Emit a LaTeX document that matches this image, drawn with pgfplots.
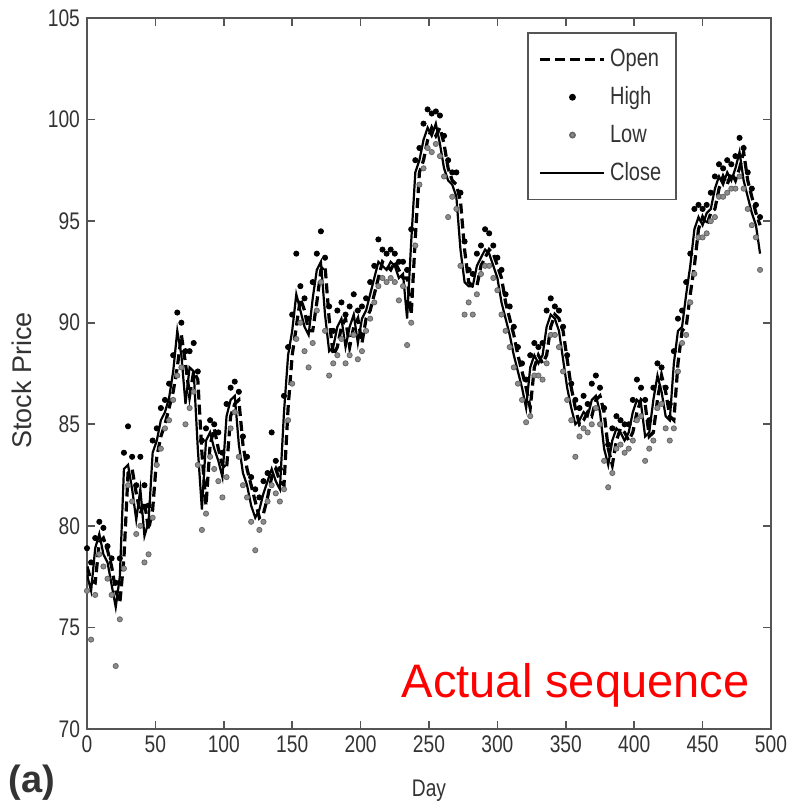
\documentclass[border=0pt]{standalone}
\usepackage{fontspec}
\setmainfont{Liberation Sans}[FakeStretch=0.8]
\newfontfamily\normalw{Liberation Sans}
\usepackage{pgfplots}
\pgfplotsset{compat=1.18}
\usepackage{pgfplotstable}
\definecolor{txt}{HTML}{333333}
\definecolor{axc}{HTML}{555555}
\pgfplotsset{
  lineleg/.style={legend image code/.code={\draw[##1] (0pt,0pt) -- (32pt,0pt);}},
  markleg/.style={legend image code/.code={\draw[##1] plot coordinates {(16pt,0pt)};}},
}

\pgfplotstableread{
day open high low close
0 78.0 78.9 76.8 77.6
3 77.3 78.2 74.4 76.8
6 77.2 79.4 76.6 78.9
9 79.2 80.2 78.6 79.6
12 79.4 79.9 78.0 78.6
15 78.8 79.0 77.4 78.2
18 78.0 78.4 76.6 77.1
21 76.8 77.2 73.1 76.0
24 76.2 78.4 75.4 77.5
27 78.4 83.6 77.9 82.8
30 82.6 84.9 82.0 83.0
33 82.8 83.4 81.2 81.8
36 81.6 82.0 79.6 80.3
39 80.6 83.4 80.0 81.8
42 81.2 82.0 78.2 79.5
45 79.8 81.0 78.6 80.2
48 80.8 84.2 80.4 83.6
51 83.4 84.8 83.0 84.2
54 84.4 85.8 83.8 85.2
57 85.0 86.2 84.8 85.6
60 85.8 87.0 85.2 86.3
63 86.6 88.4 86.2 87.6
66 87.8 90.5 87.4 89.6
69 89.4 90.0 87.8 88.4
72 88.0 88.6 85.0 86.0
75 86.4 88.6 85.8 87.8
78 87.6 89.0 86.6 87.6
81 87.2 87.6 83.0 83.8
84 83.6 84.2 79.8 80.8
87 81.0 84.8 80.6 84.2
90 84.0 85.2 83.4 84.6
93 84.8 85.0 82.8 83.8
96 83.8 84.6 82.2 83.2
99 83.0 83.6 81.4 82.4
102 82.8 86.0 82.4 85.4
105 85.4 86.8 84.8 86.2
108 86.0 87.1 85.6 86.4
111 86.2 86.6 83.4 84.0
114 84.0 84.4 82.0 82.6
117 82.8 83.4 81.4 82.0
120 82.0 82.4 80.2 81.0
123 81.2 81.8 78.8 80.4
126 80.4 81.4 79.8 80.8
129 80.6 82.2 80.2 81.6
132 81.4 82.6 81.2 82.2
135 82.4 84.6 82.0 82.8
138 82.8 83.2 81.6 82.2
141 82.2 82.8 81.2 81.8
144 82.0 86.4 81.8 85.6
147 85.8 88.8 85.2 88.4
150 88.4 90.4 87.0 89.6
153 89.8 93.4 89.2 91.4
156 91.2 91.8 90.0 90.6
159 90.6 91.2 88.6 89.8
162 89.6 90.2 87.8 89.4
165 89.6 92.0 89.0 91.2
168 91.0 93.4 90.6 92.6
171 92.6 94.5 92.0 93.0
174 92.8 93.2 89.6 90.4
177 90.2 90.8 87.4 88.6
180 88.4 89.6 88.0 88.8
183 88.8 90.6 88.4 89.8
186 89.8 91.0 89.2 90.2
189 90.2 90.4 88.0 88.8
192 88.8 90.8 88.4 89.8
195 89.8 91.4 89.4 90.4
198 90.2 90.6 88.2 89.0
201 89.0 90.8 88.6 90.2
204 90.2 91.2 89.6 90.6
207 90.6 92.0 90.2 91.4
210 91.4 92.8 91.0 92.2
213 92.2 94.1 91.8 93.0
216 93.0 93.6 92.2 92.8
219 92.8 93.4 92.0 92.6
222 92.6 93.6 92.2 93.0
225 93.0 93.4 92.0 92.8
228 92.6 93.0 91.1 92.2
231 92.2 93.0 91.8 92.4
234 92.2 92.6 88.9 90.2
237 90.4 94.6 90.0 94.0
240 94.2 98.0 93.8 97.4
243 97.4 98.6 96.8 98.0
246 98.0 99.8 97.6 99.0
249 99.0 100.5 98.6 99.6
252 99.6 100.3 98.4 99.2
255 99.2 100.4 98.8 99.8
258 99.6 100.2 98.2 98.8
261 98.8 99.2 97.2 97.6
264 97.6 98.0 95.2 97.0
267 97.0 97.4 96.2 96.8
270 96.8 97.4 95.6 96.2
273 96.0 96.4 92.8 93.6
276 93.6 94.0 90.4 92.0
279 92.0 92.6 91.0 91.8
282 91.8 92.4 90.4 91.8
285 91.8 93.4 91.4 92.8
288 92.8 93.8 92.4 93.2
291 93.2 94.6 92.8 93.6
294 93.6 94.4 92.8 93.4
297 93.4 93.8 92.2 92.8
300 92.8 93.2 91.6 92.2
303 92.2 92.6 90.4 91.0
306 91.0 91.4 89.6 90.2
309 90.2 90.8 88.8 89.4
312 89.4 89.8 87.8 88.4
315 88.4 88.8 87.0 87.6
318 87.6 88.0 86.2 86.8
321 86.8 87.2 85.1 85.8
324 85.8 88.4 85.4 87.8
327 87.8 89.0 87.4 88.4
330 88.4 88.8 87.4 88.0
333 88.0 89.0 87.2 88.4
336 88.4 90.6 88.0 89.8
339 89.8 91.2 89.4 90.4
342 90.4 90.8 89.4 90.2
345 90.2 90.6 88.8 89.6
348 89.6 89.8 87.6 88.2
351 88.2 88.4 86.2 86.8
354 86.8 87.0 85.2 85.8
357 85.8 86.2 83.4 85.0
360 85.0 85.8 84.4 85.2
363 85.2 86.4 84.8 85.6
366 85.6 86.0 84.6 85.4
369 85.4 87.0 85.0 86.2
372 86.2 87.4 85.8 86.4
375 86.4 86.8 85.0 85.6
378 85.6 85.8 83.2 83.8
381 83.8 84.0 81.9 83.0
384 83.0 84.8 82.6 84.2
387 84.2 85.4 83.8 84.8
390 84.8 85.2 84.0 84.6
393 84.6 85.0 83.6 84.2
396 84.2 85.0 83.8 84.6
399 84.6 86.2 84.2 85.6
402 85.6 87.2 85.2 86.2
405 86.2 86.8 85.4 86.0
408 86.0 86.2 83.2 84.4
411 84.4 85.2 83.8 84.6
414 84.6 86.8 84.2 86.2
417 86.2 88.0 85.8 87.4
420 87.4 87.8 86.0 86.6
423 86.6 86.8 84.8 85.4
426 85.4 86.0 84.2 85.2
429 85.2 88.6 84.8 88.0
432 88.0 90.2 87.6 89.6
435 89.6 90.6 89.0 89.8
438 89.8 92.0 89.4 91.4
441 91.4 93.4 91.0 92.8
444 92.8 95.6 92.4 94.6
447 94.6 95.8 94.2 95.2
450 95.2 95.6 94.2 94.8
453 94.8 95.8 94.4 95.4
456 95.4 96.4 95.0 95.6
459 95.6 97.2 95.2 96.6
462 96.6 97.8 96.2 97.2
465 97.2 97.6 96.2 96.8
468 96.8 98.0 96.4 97.4
471 97.4 97.8 96.6 97.0
474 97.0 98.2 96.6 97.6
477 97.6 99.1 97.2 98.4
480 98.4 98.6 96.6 97.0
483 97.0 97.4 95.6 96.2
486 96.2 96.6 94.8 95.4
489 95.4 95.8 94.2 94.8
492 94.8 95.2 92.6 93.4
}\stock

\begin{document}
\begin{tikzpicture}
\begin{axis}[
  name=ax,
  scale only axis,
  width=342pt, height=355.5pt,
  xmin=0, xmax=500, ymin=70, ymax=105,
  xtick={0,50,...,500}, ytick={70,75,...,105},
  tick align=inside,
  major tick length=4pt,
  axis line style={axc, line width=0.9pt},
  every tick/.style={axc, line width=0.8pt},
  /pgf/number format/assume math mode=true,
  ticklabel style={font=\fontsize{12}{14}\selectfont, text=txt},
  xlabel={Day},
  ylabel={Stock Price},
  xlabel style={font=\fontsize{12}{14}\selectfont, text=txt, at={(axis description cs:0.5,0)}, anchor=base, yshift=-33.5pt},
  ylabel style={font=\normalw\fontsize{13.5}{15}\selectfont, text=txt, at={(axis description cs:-0.095,0.49)}, anchor=center},
  legend style={at={(rel axis cs:0.8626,0.980)}, anchor=north east, draw=axc, line width=0.8pt,
    font=\fontsize{12.5}{14}\selectfont, text=txt, inner xsep=5.5pt, inner ysep=6pt,
    row sep=4.6pt, cells={anchor=west}},
  legend cell align=left,
]
\addplot[black, line width=1.6pt, dash pattern=on 5pt off 2.5pt, lineleg]
  table[x=day, y=open] {\stock};
\addlegendentry{Open}
\addplot[only marks, mark=*, mark size=1.3pt, black, markleg]
  table[x=day, y=high] {\stock};
\addlegendentry{High}
\addplot[only marks, mark=*, mark size=1.3pt, black!60, mark options={fill=black!45}, markleg]
  table[x=day, y=low] {\stock};
\addlegendentry{Low}
\addplot[black, line width=1.1pt, lineleg]
  table[x=day, y=close] {\stock};
\addlegendentry{Close}
\node[anchor=base east, inner sep=0pt, text=red, font=\normalw\fontsize{23.5}{26}\selectfont]
  at (rel axis cs:0.969,0.045) {Actual sequence};
\end{axis}
\node[anchor=base west, inner sep=0pt, text=txt, font=\normalw\bfseries\fontsize{19}{22}\selectfont]
  at ([xshift=-39.5pt, yshift=-31.5pt]ax.south west) {(a)};
\pgfresetboundingbox
\path ([xshift=-43.5pt,yshift=-37pt]ax.south west) rectangle ([xshift=9pt,yshift=9pt]ax.north east);
\end{tikzpicture}
\end{document}
